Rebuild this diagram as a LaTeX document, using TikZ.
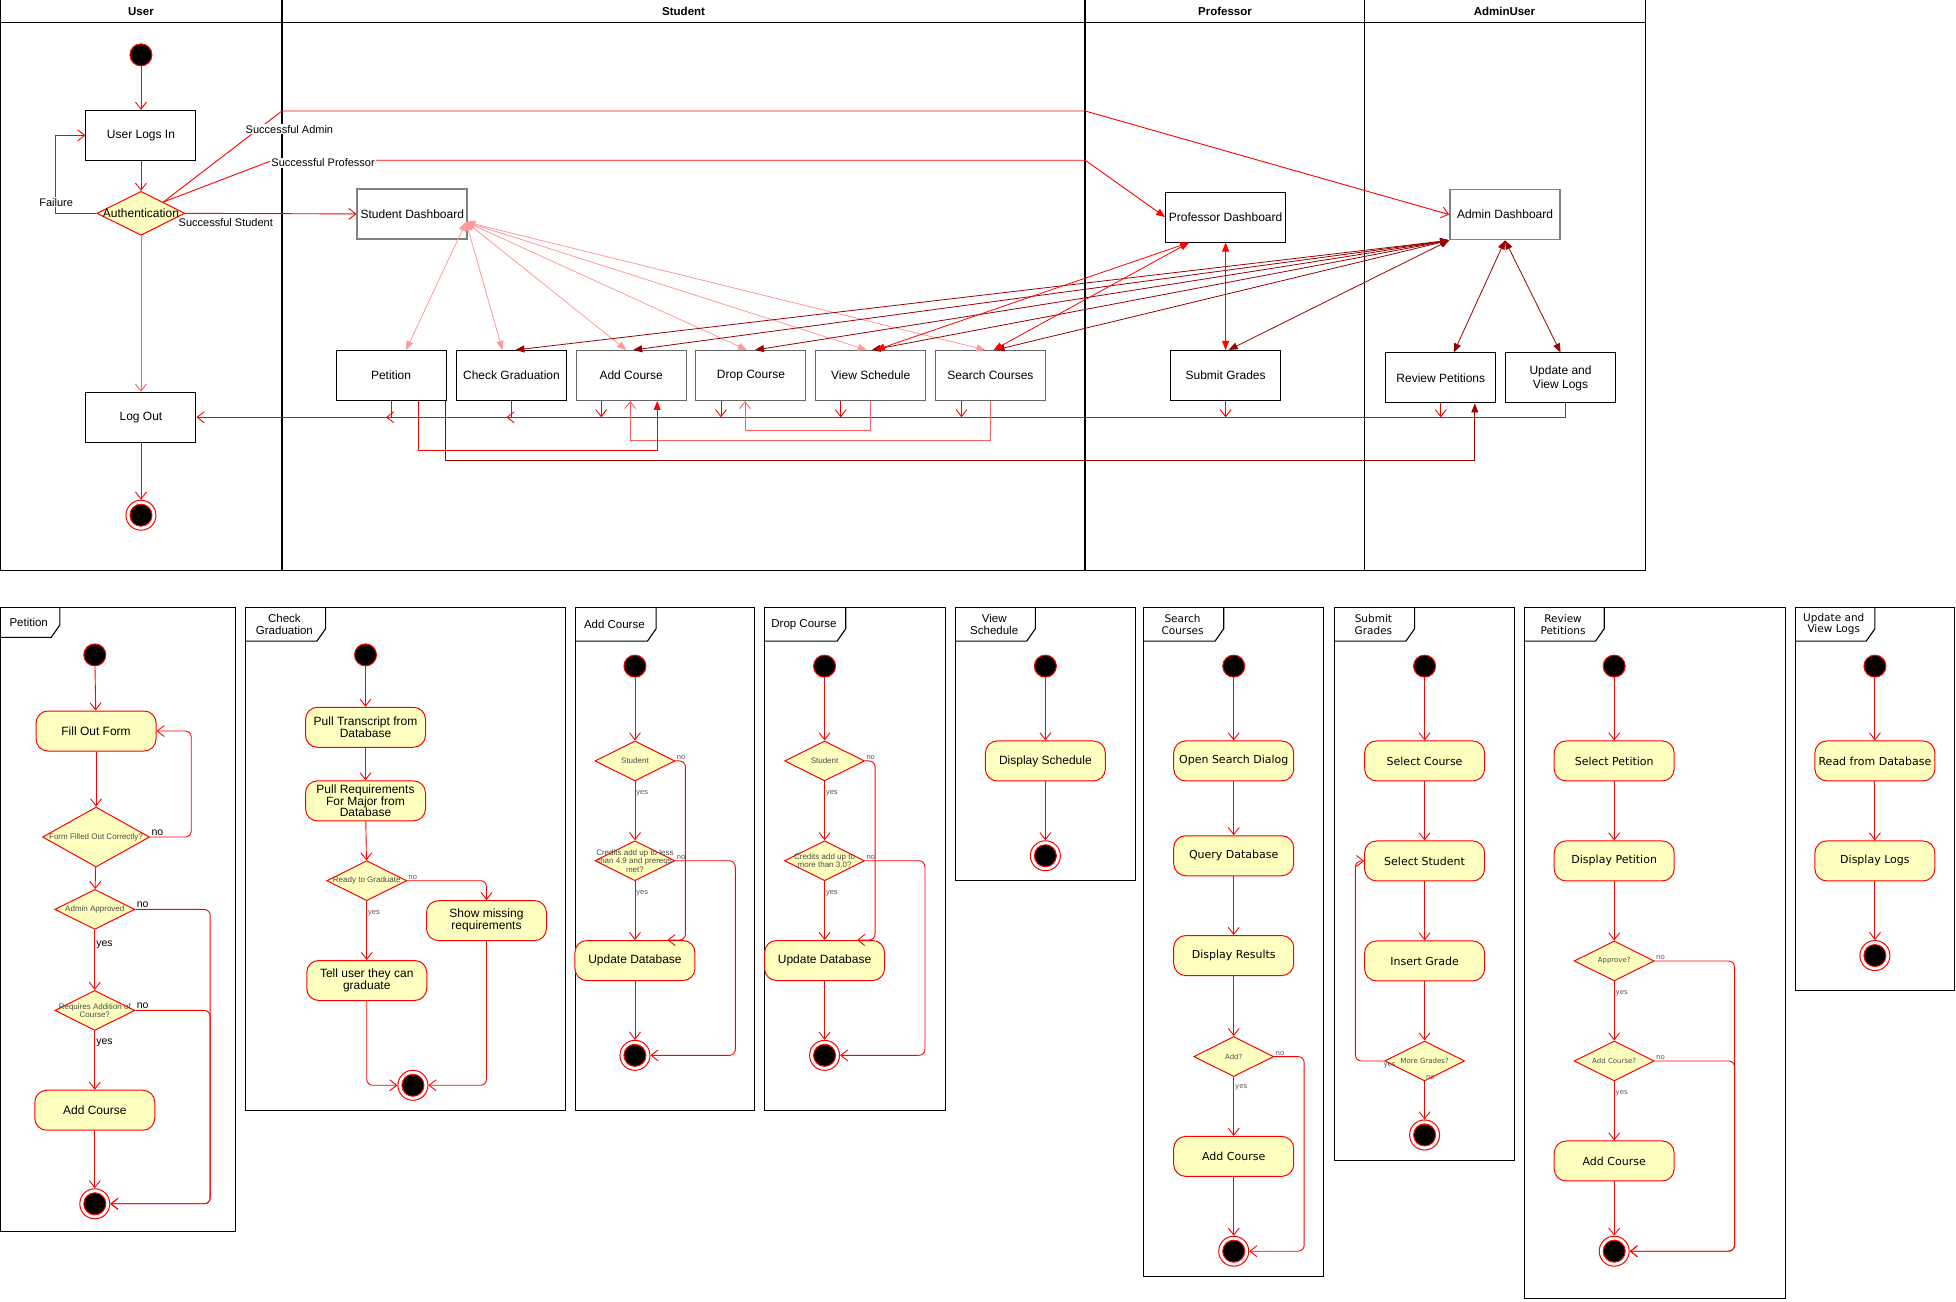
\documentclass[tikz,border=0pt]{standalone}
\usepackage{fontspec}
\setmainfont{Liberation Sans}
\newfontfamily\dejavu{DejaVu Sans}
\usepackage{tikz}
\usetikzlibrary{shapes.geometric,arrows.meta,positioning}

\definecolor{uyel}{HTML}{FFFFC0}
\definecolor{pinkl}{HTML}{FF9999}
\definecolor{darkr}{HTML}{990000}
\definecolor{lred}{HTML}{FF5C5C}

\begin{document}
\begin{tikzpicture}[
    x=1.2474pt, y=-1.2474pt,
    node distance=59pt,
    box/.style={rectangle, draw=black, fill=white, align=center, line width=1pt,
                minimum width=110pt, minimum height=50pt,
                font=\fontsize{12}{14}\selectfont, inner sep=2pt},
    gbox/.style={box, draw=black!50, line width=1.6pt},
    tbox/.style={box, draw=black!60},
    act/.style={rectangle, rounded corners=12pt, draw=red, fill=uyel, line width=1pt,
                align=center, minimum width=120pt, minimum height=40pt,
                font=\fontsize{12}{12.5}\selectfont, inner sep=1pt},
    vact/.style={act, font=\dejavu\fontsize{11}{13}\selectfont},
    dec/.style={diamond, draw=red, fill=uyel, line width=1pt, minimum width=80pt,
                minimum height=40pt, inner sep=0pt},
    dtxt/.style={font=\fontsize{8}{8.5}\selectfont, text=black!70, align=center},
    vtxt/.style={font=\dejavu\fontsize{7}{8}\selectfont, text=black!70},
    startst/.style={circle, draw=red, fill=black, line width=1pt, minimum size=22pt, inner sep=0pt},
    endst/.style={circle, draw=red, fill=white, line width=1pt, minimum size=30pt, inner sep=0pt,
                  path picture={\filldraw[draw=red, fill=black]
                  (path picture bounding box.center) circle (11pt);}},
    arr/.style={->, >={Straight Barb[length=7pt,width=11pt]}, draw=red, line width=0.9pt},
    larr/.style={arr, rounded corners=6pt},
    farr/.style={->, >={Triangle[length=9pt,width=7pt]}, line width=0.9pt},
    dbl/.style={<->, >={Triangle[length=9pt,width=7pt]}, line width=0.8pt},
    lbl/.style={font=\fontsize{11}{12}\selectfont, fill=white, inner sep=1pt},
    yn/.style={font=\fontsize{7.5}{8}\selectfont, text=black!65, inner sep=1pt},
    ynb/.style={font=\fontsize{10.5}{11}\selectfont, inner sep=1pt},
    vyn/.style={font=\dejavu\fontsize{7}{8}\selectfont, text=black!65, inner sep=1pt},
    lane/.style={draw=black, line width=1pt},
    frm/.style={draw=black, line width=1.1pt},
    lanetitle/.style={font=\bfseries\fontsize{11.5}{13}\selectfont},
  ]
  \useasboundingbox (0,0) rectangle (1568,1043);

  % swimlanes
  \draw[lane] (0,0) rectangle (1319,457);
  \draw[lane, line width=1.3pt] (0,18) -- (1319,18);
  \draw[lane, line width=2pt] (226,0) -- (226,457);
  \draw[lane, line width=2pt] (870,0) -- (870,457);
  \draw[lane] (1094,0) -- (1094,457);
  \node[lanetitle] (tuser) at (113,9.5) {User};
  \node[lanetitle] (tstud) at (548,9.5) {Student};
  \node[lanetitle] (tprof) at (982,9.5) {Professor};
  \node[lanetitle] (tadm) at (1206,9.5) {AdminUser};

  \node[startst] (ustart) at (113,44) {};
  \node[box] (login) at (113,108.5) {User Logs In};
  \node[dec, minimum width=88pt, minimum height=44pt,
        label={[font=\fontsize{12}{14}\selectfont]center:Authentication}] (auth) at (113,171) {};
  \node[box] (logout) at (113,334.5) {Log Out};
  \node[endst] (uend) at (113,413) {};

  \node[gbox] (sdash) at (330.5,171.5) {Student Dashboard};
  \node[box] (pet) at (313.5,301) {Petition};
  \node[box] (chk) at (410,301) {Check Graduation};
  \node[tbox] (addc) at (506,301) {Add Course};
  \node[tbox] (drop) at (602,301) {Drop Course};
  \node[tbox] (view) at (698,301) {View Schedule};
  \node[tbox] (srch) at (794,301) {Search Courses};
  \node[box, minimum width=120pt] (pdash) at (982.5,174) {Professor Dashboard};
  \node[box] (subg) at (982.5,301) {Submit Grades};
  \node[gbox] (adash) at (1206.5,172) {Admin Dashboard};
  \node[box] (revp) at (1155,303) {Review Petitions};
  \node[box] (updl) at (1251,303) {Update and\\View Logs};

  \draw[arr] (ustart) -- (login);
  \draw[arr] (login) -- (auth);
  \draw[arr] (auth.west) -- ++(-33,0) |- (login.west);
  \draw[arr] (auth.east) -- (sdash.west);
  \draw[arr] (auth.north east) -- (226,89) -- (870,89) -- (adash.west);
  \draw[farr, draw=red] (auth.north east) -- (218.5,128.5) -- (870,128.5) -- (pdash.west);
  \draw[arr, draw=lred] (auth) -- (logout);
  \draw[arr] (logout) -- (uend);
  \node[lbl] (lfail) at (45,162) {Failure};
  \node[lbl, fill=none] (lstud) at (181,178.5) {Successful Student};
  \node[lbl] (ladm) at (232,103.5) {Successful Admin};
  \node[lbl] (lprof) at (259,130.5) {Successful Professor};

  \foreach \t/\s in {pet/15pt, chk/-9pt, addc/-5pt, drop/-4pt, view/-4pt, srch/-5pt}
    \draw[dbl, draw=pinkl] ([xshift=-2pt,yshift=-8pt]sdash.east) -- ([xshift=\s]\t.north);
  \foreach \t/\s in {chk/4pt, addc/2pt, drop/4pt, view/1pt, srch/5pt, subg/3pt}
    \draw[dbl, draw=darkr] (adash.south west) -- ([xshift=\s]\t.north);
  \draw[dbl, draw=darkr] (adash.south) -- ([xshift=13pt]revp.north);
  \draw[dbl, draw=darkr] (adash.south) -- (updl.north);
  \foreach \t/\s in {view/5pt, srch/3pt}
    \draw[dbl, draw=red] ([xshift=24pt]pdash.south west) -- ([xshift=\s]\t.north);
  \draw[dbl, draw=red] (pdash.south) -- (subg.north);

  \draw[arr] ([xshift=5pt]updl.south) |- (logout.east);
  \draw[arr] (pet.south) |- ([xshift=-5pt]pet.south |- logout.east);
  \draw[arr] (chk.south) |- ([xshift=-5pt]chk.south |- logout.east);
  \foreach \t/\s in {addc/-30pt, drop/-30pt, view/-30pt, srch/-29pt, subg/0pt, revp/0pt}
    \draw[arr] ([xshift=\s]\t.south) -- ([xshift=\s]\t.south |- logout.east);
  \draw[arr, draw=lred] (view.south) -- ++(0,24) -| ([xshift=-6pt]drop.south);
  \draw[arr, draw=lred] (srch.south) -- ++(0,31.5) -| ([xshift=-1pt]addc.south);
  \draw[farr, draw=red] ([xshift=27pt]pet.south) -- ++(0,39.5) -| ([xshift=26pt]addc.south);
  \draw[farr, draw=darkr] ([xshift=54pt]pet.south) -- ++(0,47.7) -| ([xshift=34pt]revp.south);

  % activity frames
  \foreach \l/\r/\b/\tw/\th/\f/\fs/\t [count=\i] in {
      0/189/987/48/24/\relax/11.5/Petition,
      197/453/890/64/27/\relax/11.5/{Check\\Graduation},
      461/605/890/65/27/\relax/11.5/Add Course,
      613/758/890/65/27/\relax/11.5/Drop Course,
      766/910/706/64/27/\relax/11.5/{View\\Schedule},
      917/1061/1023/64/27/\dejavu/10.5/{Search\\Courses},
      1070/1214/930/64/27/\dejavu/10.5/{Submit\\Grades},
      1222/1431/1041/64/27/\dejavu/10.5/{Review\\Petitions},
      1439/1567/794/64/27/\dejavu/10.5/{Update and\\View Logs}}
  {
    \draw[frm] (\l,487) rectangle (\r,\b);
    \draw[frm] (\l,{487+\th}) -- ({\l+\tw-7},{487+\th}) -- ({\l+\tw},{487+\th-10}) -- ({\l+\tw},487);
    \node[font=\f\fontsize{\fs}{11.5}\selectfont, align=center, inner sep=0pt]
      (tab\i) at ({\l+\tw/2-1},{487+\th/2}) {\t};
  }

  % Petition
  \node[startst] (p0) at (76,525) {};
  \node[act] (p1) at (77,586) {Fill Out Form};
  \node[dec, minimum width=107pt, minimum height=60pt,
        label={[dtxt]center:Form Filled Out Correctly?}] (p2) at (77,671) {};
  \node[dec, label={[dtxt]center:Admin Approved}] (p3) at (76,729) {};
  \node[dec, label={[dtxt]center:Requires Addition of\\Course?}] (p4) at (76,810) {};
  \node[act] (p5) at (76,890) {Add Course};
  \node[endst] (p6) at (76,965) {};
  \draw[arr] (p0) -- (p1);
  \draw[arr] (p1) -- (p2);
  \draw[arr] (p2) -- (p3);
  \draw[arr] (p3) -- node[ynb, right, pos=0.25] (p3y) {yes} (p4);
  \draw[arr] (p4) -- node[ynb, right, pos=0.2] (p4y) {yes} (p5);
  \draw[arr] (p5) -- (p6);
  \draw[larr] (p2.east) node[ynb, above right] (p2n) {no} -- ++(33,0) |- (p1.east);
  \draw[larr] (p3.east) node[ynb, above right] (p3n) {no} -- ++(60,0) |- (p6.east);
  \draw[larr] (p4.east) node[ynb, above right] (p4n) {no} -- ++(60,0) |- (p6.east);

  % Check Graduation
  \node[startst] (g0) at (293,525) {};
  \node[act] (g1) at (293,583) {Pull Transcript from\\Database};
  \node[act, font=\fontsize{12}{11.5}\selectfont] (g2) at (293,642) {Pull Requirements\\For Major from\\Database};
  \node[dec, label={[dtxt]center:Ready to Graduate}] (g3) at (294,706) {};
  \node[act] (g4) at (390,738) {Show missing\\requirements};
  \node[act] (g5) at (294,786) {Tell user they can\\graduate};
  \node[endst] (g6) at (331,870) {};
  \draw[arr] (g0) -- (g1);
  \draw[arr] (g1) -- (g2);
  \draw[arr] (g2) -- (g3);
  \draw[larr] (g3.east) node[yn, above right] (g3n) {no} -| (g4.north);
  \draw[arr] (g3) -- node[yn, right, pos=0.2] (g3y) {yes} (g5);
  \draw[larr] (g5.south) |- (g6.west);
  \draw[larr] (g4.south) |- (g6.east);

  % Add Course
  \node[startst] (a0) at (509,534) {};
  \node[dec, label={[dtxt]center:Student}] (a1) at (509,610) {};
  \node[dec, label={[dtxt]center:Credits add up to less\\than 4.9 and prereqs\\met?}] (a2) at (509,690) {};
  \node[act] (a3) at (509,770) {Update Database};
  \node[endst] (a4) at (509,846) {};
  \draw[arr] (a0) -- (a1);
  \draw[arr] (a1) -- node[yn, right, pos=0.2] (a1y) {yes} (a2);
  \draw[arr] (a2) -- node[yn, right, pos=0.2] (a2y) {yes} (a3);
  \draw[arr] (a3) -- (a4);
  \draw[larr] (a1.east) node[yn, above right] (a1n) {no} -- ++(8,0) |- ([xshift=-28pt]a3.north east);
  \draw[larr] (a2.east) node[yn, above right] (a2n) {no} -- ++(48,0) |- (a4.east);

  % Drop Course
  \node[startst] (d0) at (661,534) {};
  \node[dec, label={[dtxt]center:Student}] (d1) at (661,610) {};
  \node[dec, label={[dtxt]center:Credits add up to\\more than 3.0?}] (d2) at (661,690) {};
  \node[act] (d3) at (661,770) {Update Database};
  \node[endst] (d4) at (661,846) {};
  \draw[arr] (d0) -- (d1);
  \draw[arr] (d1) -- node[yn, right, pos=0.2] (d1y) {yes} (d2);
  \draw[arr] (d2) -- node[yn, right, pos=0.2] (d2y) {yes} (d3);
  \draw[arr] (d3) -- (d4);
  \draw[larr] (d1.east) node[yn, above right] (d1n) {no} -- ++(8,0) |- ([xshift=-28pt]d3.north east);
  \draw[larr] (d2.east) node[yn, above right] (d2n) {no} -- ++(48,0) |- (d4.east);

  % View Schedule
  \node[startst] (v0) at (838,534) {};
  \node[act] (v1) at (838,610) {Display Schedule};
  \node[endst] (v2) at (838,686) {};
  \draw[arr] (v0) -- (v1);
  \draw[arr] (v1) -- (v2);

  % Search Courses
  \node[startst] (s0) at (989,534) {};
  \node[vact] (s1) at (989,610) {Open Search Dialog};
  \node[vact] (s2) at (989,686) {Query Database};
  \node[vact] (s3) at (989,766) {Display Results};
  \node[dec, label={[vtxt]center:Add?}] (s4) at (989,847) {};
  \node[vact] (s5) at (989,927) {Add Course};
  \node[endst] (s6) at (989,1003) {};
  \draw[arr] (s0) -- (s1);
  \draw[arr] (s1) -- (s2);
  \draw[arr] (s2) -- (s3);
  \draw[arr] (s3) -- (s4);
  \draw[arr] (s4) -- node[vyn, right, pos=0.17] (s4y) {yes} (s5);
  \draw[arr] (s5) -- (s6);
  \draw[larr] (s4.east) node[vyn, above right] (s4n) {no} -- ++(24,0) |- (s6.east);

  % Submit Grades
  \node[startst] (m0) at (1142,534) {};
  \node[vact] (m1) at (1142,610) {Select Course};
  \node[vact, below=of m1] (m2) {Select Student};
  \node[vact, below=of m2] (m3) {Insert Grade};
  \node[dec, below=of m3, label={[vtxt]center:More Grades?}] (m4) {};
  \node[endst, below=38pt of m4] (m5) {};
  \draw[arr] (m0) -- (m1);
  \draw[arr] (m1) -- (m2);
  \draw[arr] (m2) -- (m3);
  \draw[arr] (m3) -- (m4);
  \draw[arr] (m4.south) node[vyn, above right] (m4n) {no} -- (m5);
  \draw[larr] (m4.west) node[vyn, below right, xshift=-2pt] (m4y) {yes} -- ++(-23,0) |- (m2.west);

  % Review Petitions
  \node[startst] (r0) at (1294,534) {};
  \node[vact] (r1) at (1294,610) {Select Petition};
  \node[vact, below=of r1] (r2) {Display Petition};
  \node[dec, below=of r2, label={[vtxt]center:Approve?}] (r3) {};
  \node[dec, below=of r3, label={[vtxt]center:Add Course?}] (r4) {};
  \node[vact, below=of r4] (r5) {Add Course};
  \node[endst] (r6) at (1294,1003) {};
  \draw[arr] (r0) -- (r1);
  \draw[arr] (r1) -- (r2);
  \draw[arr] (r2) -- (r3);
  \draw[arr] (r3) -- node[vyn, right, pos=0.2] (r3y) {yes} (r4);
  \draw[arr] (r4) -- node[vyn, right, pos=0.2] (r4y) {yes} (r5);
  \draw[arr] (r5) -- (r6);
  \draw[larr] (r3.east) node[vyn, above right] (r3n) {no} -- ++(64,0) |- (r6.east);
  \draw[larr] (r4.east) node[vyn, above right] (r4n) {no} -- ++(64,0) |- (r6.east);

  % Update and View Logs
  \node[startst] (l0) at (1503,534) {};
  \node[vact] (l1) at (1503,610) {Read from Database};
  \node[vact, below=of l1] (l2) {Display Logs};
  \node[endst] (l3) at (1503,766) {};
  \draw[arr] (l0) -- (l1);
  \draw[arr] (l1) -- (l2);
  \draw[arr] (l2) -- (l3);
\end{tikzpicture}
\end{document}
